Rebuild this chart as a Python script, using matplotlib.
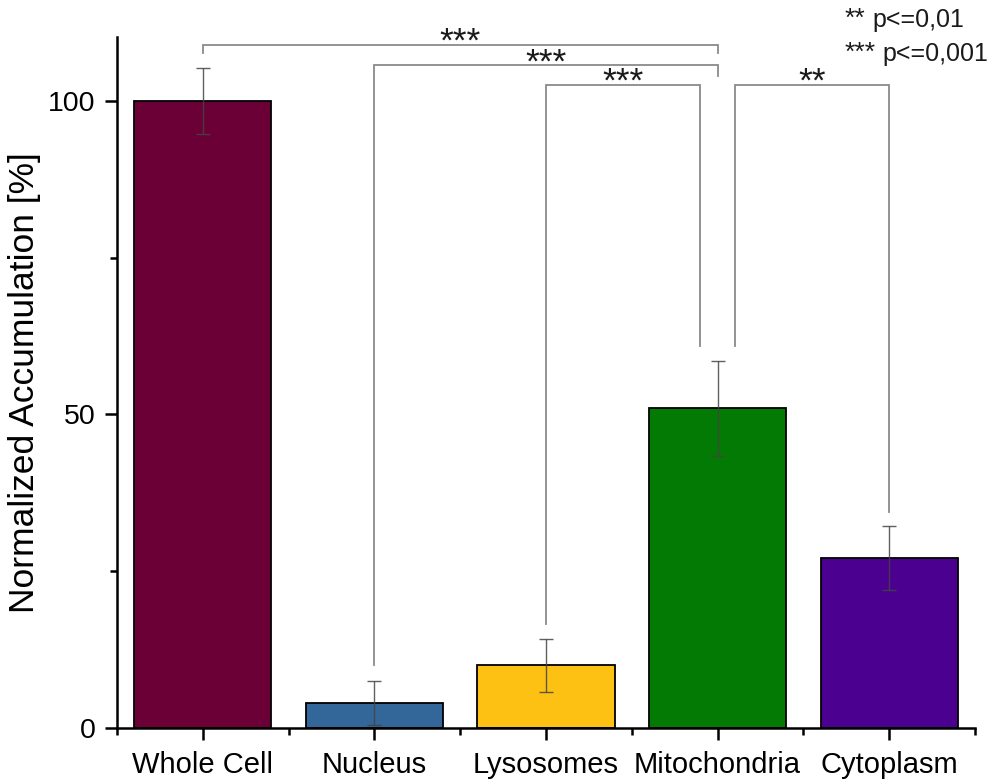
import matplotlib
matplotlib.use("Agg")
import matplotlib.pyplot as plt
from matplotlib.ticker import FixedLocator

plt.rcParams['font.family'] = ['Liberation Sans', 'DejaVu Sans']

categories = ["Whole Cell", "Nucleus", "Lysosomes", "Mitochondria", "Cytoplasm"]
values = [100.0, 4.0, 10.0, 51.0, 27.1]
errors = [5.3, 3.5, 4.2, 7.6, 5.1]
colors = ["#6a0036", "#336699", "#fdc114", "#037a03", "#4b008f"]

# significance brackets: (x_left, x_right, y_bar, y_left_end, y_right_end, label)
brackets = [
    (0.0, 3.0, 108.9, 107.6, 107.6, "***"),
    (1.0, 3.0, 105.7, 10.0, 104.0, "***"),
    (2.0, 2.9, 102.6, 16.6, 60.9, "***"),
    (3.1, 4.0, 102.6, 60.9, 34.4, "**"),
]
legend_stars = ["**", "***"]
legend_texts = ["p<=0,01", "p<=0,001"]

fig = plt.figure(figsize=(9.93, 7.83), dpi=100)
ax = fig.add_axes([117/993, 1-728/783, (975-117)/993, (728-37)/783])

x = list(range(len(categories)))
ax.bar(x, values, width=0.8, color=colors, edgecolor="black", linewidth=1.3, zorder=2)
ax.errorbar(x, values, yerr=errors, fmt="none", ecolor="#444444", elinewidth=1.0,
            capsize=4.7, capthick=1.0, zorder=3, alpha=0.85)

for xl, xr, yb, yl, yr, lab in brackets:
    ax.plot([xl, xl, xr, xr], [yl, yb, yb, yr], color="#8a8a8a", lw=1.3,
            zorder=1, solid_joinstyle="miter", clip_on=False)
    ax.annotate(lab, xy=((xl+xr)/2, yb), xytext=(0, -5), textcoords="offset points",
                ha="center", va="baseline", fontsize=25.5, color="#1a1a1a",
                annotation_clip=False)

ax.set_xlim(-0.5, 4.5)
ax.set_ylim(0, 110.2)
ax.set_xticks(x)
ax.set_xticklabels(categories, fontsize=21)
ax.xaxis.set_minor_locator(FixedLocator([-0.5, 0.5, 1.5, 2.5, 3.5, 4.5]))
ax.set_yticks([0, 50, 100])
ax.set_yticklabels(["0", "50", "100"], fontsize=20.5)
ax.yaxis.set_minor_locator(FixedLocator([25, 75]))

for s in ["top", "right"]:
    ax.spines[s].set_visible(False)
for s in ["left", "bottom"]:
    ax.spines[s].set_linewidth(1.8)

ax.tick_params(axis="both", which="major", direction="out", length=8.6, width=1.8, pad=7, colors="black")
ax.tick_params(axis="both", which="minor", direction="out", length=5, width=1.8)
ax.tick_params(axis="x", which="major", pad=8)

ax.set_ylabel("Normalized Accumulation [%]", fontsize=25.5)
ax.yaxis.set_label_coords(-0.088, 0.5)

star_x = 845/993
text_x = [872/993, 882/993]
baselines = [27, 61]
for i in range(len(legend_texts)):
    fig.text(star_x, 1 - (baselines[i] - 1)/783, legend_stars[i], fontsize=19,
             ha="left", va="baseline", color="#1a1a1a")
    fig.text(text_x[i], 1 - baselines[i]/783, legend_texts[i], fontsize=18,
             ha="left", va="baseline", color="#1a1a1a")

fig.savefig("out.png", dpi=100)
